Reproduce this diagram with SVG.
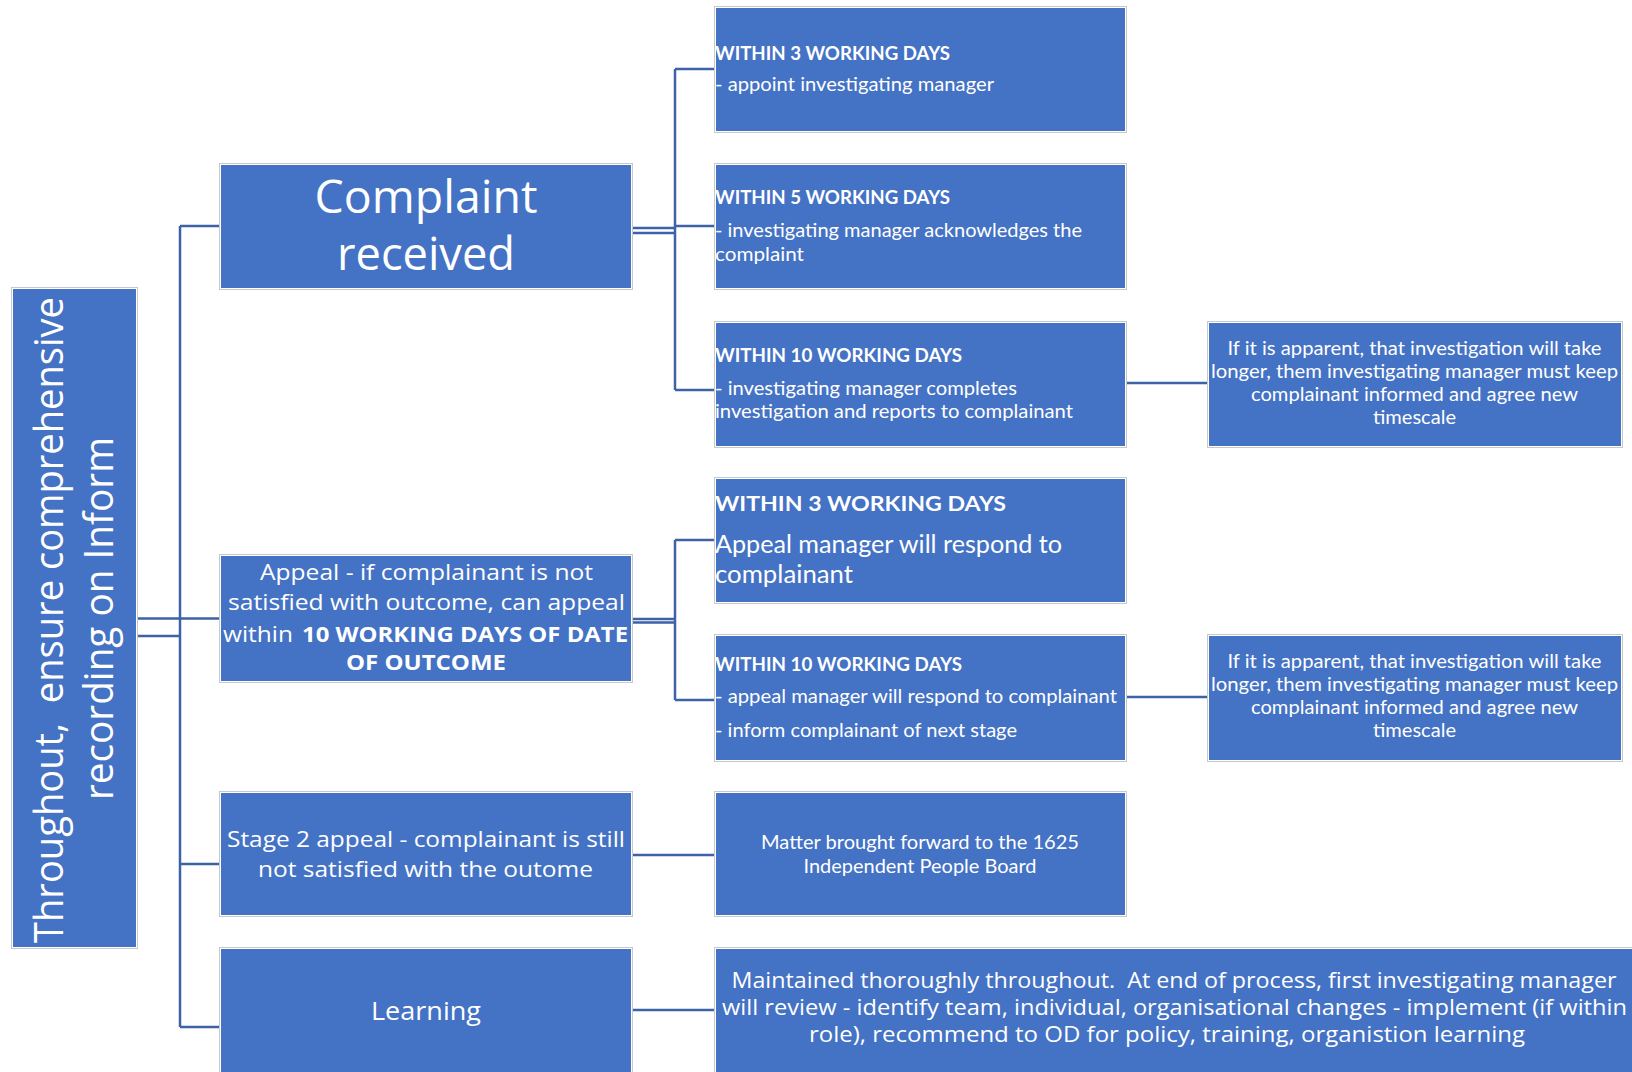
<svg xmlns="http://www.w3.org/2000/svg" width="1632" height="1072" viewBox="0 0 1632 1072">
<style>
.frame{fill:#ffffff;stroke:#c8c8c8;stroke-width:1}
.box{fill:#4472c4}
#connectors path{stroke:#3e62a6;stroke-width:2.5;fill:none}
text{fill:#ffffff}
.seg{font-family:"Open Sans","Noto Sans",sans-serif}
.cal{font-family:Lato,"Liberation Sans",sans-serif}
.b{font-weight:bold}
.mid{text-anchor:middle}
.pre{white-space:pre}
</style>
<rect width="1632" height="1072" fill="#ffffff"/>
<g id="connectors">
<path d="M180,226 V1027"/>
<path d="M180,226 H219 M138,618.5 H219 M138,636 H180 M180,864 H219 M180,1027 H219"/>
<path d="M633,228 H675 M633,233 H675 M675,69 V390 M675,69 H714 M675,226 H714 M675,390 H714"/>
<path d="M633,619 H675 M633,622.5 H675 M675,540 V700 M675,540 H714 M675,700 H714"/>
<path d="M1127,383 H1207 M1127,697 H1207"/>
<path d="M633,855 H714 M633,1010 H714"/>
</g>
<g id="root">
<rect class="frame" x="11.5" y="287.5" width="126" height="661"/>
<rect class="box" x="13" y="289" width="123" height="658"/>
<text class="seg pre" font-size="41" text-anchor="middle" textLength="646" lengthAdjust="spacingAndGlyphs" transform="translate(63,620) rotate(-90)">Throughout,  ensure comprehensive</text>
<text class="seg" font-size="41" text-anchor="middle" textLength="363" lengthAdjust="spacingAndGlyphs" transform="translate(113,618.5) rotate(-90)">recording on Inform</text>
</g>
<g id="complaint">
<rect class="frame" x="219.5" y="163.5" width="413" height="126"/>
<rect class="box" x="221" y="165" width="410" height="123"/>
<text class="seg mid" x="426" y="213" font-size="46" textLength="223" lengthAdjust="spacingAndGlyphs">Complaint</text>
<text class="seg mid" x="426" y="270" font-size="46" textLength="178" lengthAdjust="spacingAndGlyphs">received</text>
</g>
<g id="appeal">
<rect class="frame" x="219.5" y="554.5" width="413" height="128"/>
<rect class="box" x="221" y="556" width="410" height="125"/>
<text class="seg mid" x="426.5" y="579.5" font-size="22" textLength="333" lengthAdjust="spacingAndGlyphs">Appeal - if complainant is not</text>
<text class="seg mid" x="426.5" y="610" font-size="22" textLength="397" lengthAdjust="spacingAndGlyphs">satisfied with outcome, can appeal</text>
<text class="seg" x="223" y="641.5" font-size="22" textLength="70" lengthAdjust="spacingAndGlyphs">within</text>
<text class="seg b" x="302" y="641.5" font-size="22" textLength="326" lengthAdjust="spacingAndGlyphs">10 WORKING DAYS OF DATE</text>
<text class="seg b mid" x="426" y="670" font-size="22" textLength="160" lengthAdjust="spacingAndGlyphs">OF OUTCOME</text>
</g>
<g id="stage2">
<rect class="frame" x="219.5" y="791.5" width="413" height="125"/>
<rect class="box" x="221" y="793" width="410" height="122"/>
<text class="seg mid" x="426" y="846.7" font-size="22" textLength="398" lengthAdjust="spacingAndGlyphs">Stage 2 appeal - complainant is still</text>
<text class="seg mid" x="425.5" y="876.7" font-size="22" textLength="335" lengthAdjust="spacingAndGlyphs">not satisfied with the outome</text>
</g>
<g id="learning">
<rect class="frame" x="219.5" y="947.5" width="413" height="139"/>
<rect class="box" x="221" y="949" width="410" height="136"/>
<text class="seg mid" x="426" y="1020" font-size="26" textLength="110" lengthAdjust="spacingAndGlyphs">Learning</text>
</g>
<g id="r1">
<rect class="frame" x="714.5" y="6.5" width="412" height="126"/>
<rect class="box" x="716" y="8" width="409" height="123"/>
<text class="cal b" x="715" y="60" font-size="18.5" textLength="235" lengthAdjust="spacingAndGlyphs">WITHIN 3 WORKING DAYS</text>
<text class="cal" x="715" y="91" font-size="20" textLength="279" lengthAdjust="spacingAndGlyphs">- appoint investigating manager</text>
</g>
<g id="r2">
<rect class="frame" x="714.5" y="163.5" width="412" height="126"/>
<rect class="box" x="716" y="165" width="409" height="123"/>
<text class="cal b" x="715" y="204" font-size="18.5" textLength="235" lengthAdjust="spacingAndGlyphs">WITHIN 5 WORKING DAYS</text>
<text class="cal" x="715" y="237" font-size="20" textLength="367" lengthAdjust="spacingAndGlyphs">- investigating manager acknowledges the</text>
<text class="cal" x="715" y="260.5" font-size="20" textLength="89" lengthAdjust="spacingAndGlyphs">complaint</text>
</g>
<g id="r3">
<rect class="frame" x="714.5" y="321.5" width="412" height="126"/>
<rect class="box" x="716" y="323" width="409" height="123"/>
<text class="cal b" x="715" y="361.5" font-size="18.5" textLength="247" lengthAdjust="spacingAndGlyphs">WITHIN 10 WORKING DAYS</text>
<text class="cal" x="715" y="395" font-size="20" textLength="302" lengthAdjust="spacingAndGlyphs">- investigating manager completes</text>
<text class="cal" x="715" y="418.3" font-size="20" textLength="358" lengthAdjust="spacingAndGlyphs">investigation and reports to complainant</text>
</g>
<g id="r4">
<rect class="frame" x="714.5" y="477.5" width="412" height="126"/>
<rect class="box" x="716" y="479" width="409" height="123"/>
<text class="cal b" x="715" y="511" font-size="21.5" textLength="291" lengthAdjust="spacingAndGlyphs">WITHIN 3 WORKING DAYS</text>
<text class="cal" x="715" y="553" font-size="24.5" textLength="347" lengthAdjust="spacingAndGlyphs">Appeal manager will respond to</text>
<text class="cal" x="715" y="582.7" font-size="24.5" textLength="138" lengthAdjust="spacingAndGlyphs">complainant</text>
</g>
<g id="r5">
<rect class="frame" x="714.5" y="634.5" width="412" height="127"/>
<rect class="box" x="716" y="636" width="409" height="124"/>
<text class="cal b" x="715" y="671" font-size="18.5" textLength="247" lengthAdjust="spacingAndGlyphs">WITHIN 10 WORKING DAYS</text>
<text class="cal" x="715" y="703.3" font-size="20" textLength="402" lengthAdjust="spacingAndGlyphs">- appeal manager will respond to complainant</text>
<text class="cal" x="715" y="736.7" font-size="20" textLength="302" lengthAdjust="spacingAndGlyphs">- inform complainant of next stage</text>
</g>
<g id="r6">
<rect class="frame" x="714.5" y="791.5" width="412" height="125"/>
<rect class="box" x="716" y="793" width="409" height="122"/>
<text class="cal mid" x="920" y="849.3" font-size="20" textLength="318" lengthAdjust="spacingAndGlyphs">Matter brought forward to the 1625</text>
<text class="cal mid" x="920" y="872.7" font-size="20" textLength="233" lengthAdjust="spacingAndGlyphs">Independent People Board</text>
</g>
<g id="r7">
<rect class="frame" x="714.5" y="947.5" width="939" height="139"/>
<rect class="box" x="716" y="949" width="936" height="136"/>
<text class="seg mid pre" x="1174" y="988.3" font-size="21.5" textLength="885" lengthAdjust="spacingAndGlyphs">Maintained thoroughly throughout.  At end of process, first investigating manager</text>
<text class="seg mid" x="1174.5" y="1015" font-size="21.5" textLength="905" lengthAdjust="spacingAndGlyphs">will review - identify team, individual, organisational changes - implement (if within</text>
<text class="seg mid" x="1167" y="1041.7" font-size="21.5" textLength="716" lengthAdjust="spacingAndGlyphs">role), recommend to OD for policy, training, organistion learning</text>
</g>
<g id="fr1">
<rect class="frame" x="1207.5" y="321.5" width="415" height="126"/>
<rect class="box" x="1209" y="323" width="412" height="123"/>
<text class="cal mid" x="1414.5" y="354.5" font-size="19.5" textLength="374" lengthAdjust="spacingAndGlyphs">If it is apparent, that investigation will take</text>
<text class="cal mid" x="1414.5" y="378" font-size="19.5" textLength="407" lengthAdjust="spacingAndGlyphs">longer, them investigating manager must keep</text>
<text class="cal mid" x="1414.5" y="401" font-size="19.5" textLength="327" lengthAdjust="spacingAndGlyphs">complainant informed and agree new</text>
<text class="cal mid" x="1414.5" y="423.5" font-size="19.5" textLength="83" lengthAdjust="spacingAndGlyphs">timescale</text>
</g>
<g id="fr2">
<rect class="frame" x="1207.5" y="634.5" width="415" height="127"/>
<rect class="box" x="1209" y="636" width="412" height="124"/>
<text class="cal mid" x="1414.5" y="667.7" font-size="19.5" textLength="374" lengthAdjust="spacingAndGlyphs">If it is apparent, that investigation will take</text>
<text class="cal mid" x="1414.5" y="691" font-size="19.5" textLength="407" lengthAdjust="spacingAndGlyphs">longer, them investigating manager must keep</text>
<text class="cal mid" x="1414.5" y="714.3" font-size="19.5" textLength="327" lengthAdjust="spacingAndGlyphs">complainant informed and agree new</text>
<text class="cal mid" x="1414.5" y="736.7" font-size="19.5" textLength="83" lengthAdjust="spacingAndGlyphs">timescale</text>
</g>
</svg>
